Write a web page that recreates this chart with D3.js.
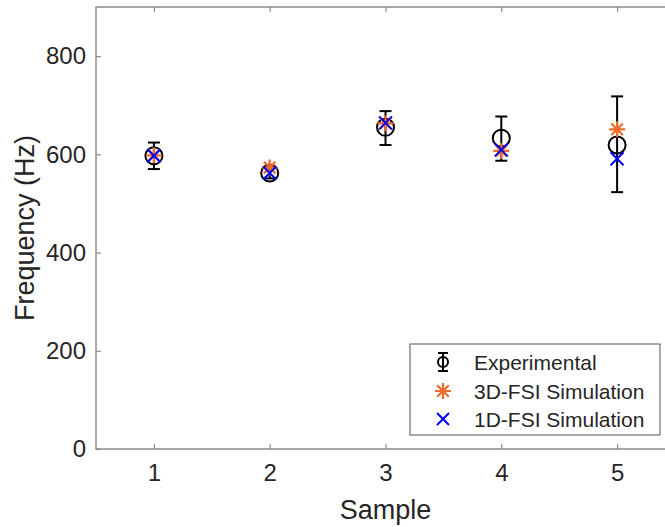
<!DOCTYPE html>
<html lang="en">
<head>
<meta charset="UTF-8">
<title>Frequency by sample</title>
<style>
  body { margin: 0; background: #fff; }
  svg text { font-family: "Liberation Sans", Arial, sans-serif; fill: #262626; }
</style>
</head>
<body>
<svg width="665" height="527"></svg>
<script src="https://d3js.org/d3.v7.min.js"></script>
<script>
// data
var samples = [1, 2, 3, 4, 5];
var expMean = [597, 562, 655, 633, 619];
var expLow  = [570, 551, 619, 587, 523];
var expHigh = [624, 574, 688, 677, 718];
var sim3d   = [598, 573, 663, 607, 651];
var sim1d   = [597, 562, 664, 609, 591];
var yTicks  = [0, 200, 400, 600, 800];

var svg = d3.select("svg");
var margin = {top: 7, left: 96, right: -10, bottom: 78};
var width = 665 - margin.left - margin.right,
    height = 527 - margin.top - margin.bottom;

var x = d3.scaleLinear().domain([0.5, 5.5]).range([0, width]);
var y = d3.scaleLinear().domain([0, 900]).range([height, 0]);

var g = svg.append("g")
    .attr("transform", "translate(" + margin.left + "," + margin.top + ")");

var axisColor = "#8c8c8c";

// axis box
g.append("rect")
    .attr("x", 0).attr("y", 0)
    .attr("width", width).attr("height", height)
    .attr("fill", "none")
    .attr("stroke", axisColor)
    .attr("stroke-width", 1.5);

var xAxis = g.append("g")
    .attr("transform", "translate(0," + height + ")")
    .call(d3.axisBottom(x).tickValues(samples).tickSize(-5).tickPadding(15).tickFormat(d3.format("d")));
var xTop = g.append("g")
    .call(d3.axisTop(x).tickValues(samples).tickSize(-5).tickFormat(""));
var yAxis = g.append("g")
    .call(d3.axisLeft(y).tickValues(yTicks).tickSize(-5).tickPadding(10));

[xAxis, xTop, yAxis].forEach(function(a) {
  a.select(".domain").remove();
  a.selectAll(".tick line").attr("stroke", axisColor).attr("stroke-width", 1.2);
  a.selectAll(".tick text").attr("font-size", 24).attr("fill", "#262626");
});
xAxis.selectAll(".tick text").attr("dy", "0.72em");

svg.append("text")
    .attr("x", margin.left + x(3)).attr("y", 519)
    .attr("text-anchor", "middle")
    .attr("font-size", 27)
    .text("Sample");

svg.append("text")
    .attr("transform", "translate(34," + (margin.top + y(450)) + ") rotate(-90)")
    .attr("text-anchor", "middle")
    .attr("font-size", 27)
    .text("Frequency (Hz)");

// error bars
var cap = 6;
var eb = g.append("g").attr("stroke", "#000").attr("stroke-width", 2).attr("fill", "none");
samples.forEach(function(s, i) {
  eb.append("line").attr("x1", x(s)).attr("x2", x(s)).attr("y1", y(expLow[i])).attr("y2", y(expHigh[i]));
  eb.append("line").attr("x1", x(s) - cap).attr("x2", x(s) + cap).attr("y1", y(expLow[i])).attr("y2", y(expLow[i]));
  eb.append("line").attr("x1", x(s) - cap).attr("x2", x(s) + cap).attr("y1", y(expHigh[i])).attr("y2", y(expHigh[i]));
});

// markers
function circleMark(sel, cx, cy, r) {
  sel.append("circle").attr("cx", cx).attr("cy", cy).attr("r", r)
      .attr("fill", "none").attr("stroke", "#000").attr("stroke-width", 2);
}
function asteriskMark(sel, cx, cy, r) {
  var p = d3.path();
  p.moveTo(cx - r, cy); p.lineTo(cx + r, cy);
  p.moveTo(cx, cy - r); p.lineTo(cx, cy + r);
  var d = r * 0.72;
  p.moveTo(cx - d, cy - d); p.lineTo(cx + d, cy + d);
  p.moveTo(cx - d, cy + d); p.lineTo(cx + d, cy - d);
  sel.append("path").attr("d", p.toString())
      .attr("stroke", "#EE6A2A").attr("stroke-width", 2.2).attr("fill", "none");
}
function crossMark(sel, cx, cy, r) {
  var p = d3.path();
  p.moveTo(cx - r, cy - r); p.lineTo(cx + r, cy + r);
  p.moveTo(cx - r, cy + r); p.lineTo(cx + r, cy - r);
  sel.append("path").attr("d", p.toString())
      .attr("stroke", "#0000FF").attr("stroke-width", 2).attr("fill", "none");
}

var marks = g.append("g");
samples.forEach(function(s, i) { circleMark(marks, x(s), y(expMean[i]), 8.5); });
samples.forEach(function(s, i) { asteriskMark(marks, x(s), y(sim3d[i]), 8); });
samples.forEach(function(s, i) { crossMark(marks, x(s), y(sim1d[i]), 6.5); });

// legend
var lg = svg.append("g").attr("transform", "translate(410,344)");
lg.append("rect").attr("width", 250).attr("height", 91)
    .attr("fill", "#fff").attr("stroke", "#555").attr("stroke-width", 1);
var names = ["Experimental", "3D-FSI Simulation", "1D-FSI Simulation"];
var rows = [18, 47, 75];
var mx = 33;
lg.append("line").attr("x1", mx).attr("x2", mx).attr("y1", rows[0] - 9).attr("y2", rows[0] + 9)
    .attr("stroke", "#000").attr("stroke-width", 2);
lg.append("line").attr("x1", mx - 5).attr("x2", mx + 5).attr("y1", rows[0] - 9).attr("y2", rows[0] - 9)
    .attr("stroke", "#000").attr("stroke-width", 2);
lg.append("line").attr("x1", mx - 5).attr("x2", mx + 5).attr("y1", rows[0] + 9).attr("y2", rows[0] + 9)
    .attr("stroke", "#000").attr("stroke-width", 2);
circleMark(lg, mx, rows[0], 5);
asteriskMark(lg, mx, rows[1], 8);
crossMark(lg, mx, rows[2], 6);
names.forEach(function(n, i) {
  lg.append("text").attr("x", 64).attr("y", rows[i]).attr("dy", "0.36em")
      .attr("font-size", 21).attr("fill", "#000").text(n);
});
</script>
</body>
</html>
